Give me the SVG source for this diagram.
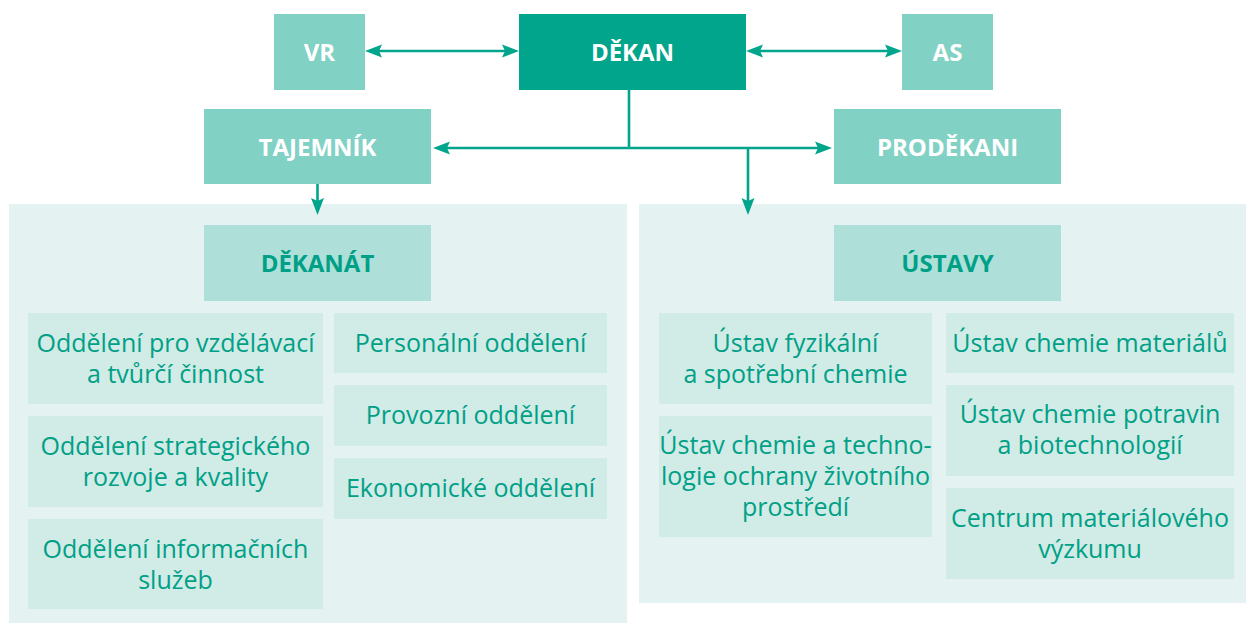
<svg xmlns="http://www.w3.org/2000/svg" width="1246" height="623" viewBox="0 0 1246 623">
  <defs>
    <style>
      .dark { fill: #00A58B; }
      .mid { fill: #82D1C5; }
      .head { fill: #AEE0D9; }
      .sub { fill: #D1EBE6; }
      .panel { fill: #E4F3F2; }
      .lbl { font-family: "Open Sans", "Noto Sans", sans-serif; font-size: 24px; font-weight: 700; fill: #FFFFFF; text-anchor: middle; }
      .hlbl { font-family: "Open Sans", "Noto Sans", sans-serif; font-size: 24px; font-weight: 700; fill: #00A087; text-anchor: middle; }
      .txt { font-family: "Open Sans", "Noto Sans", sans-serif; font-size: 25px; font-weight: 400; fill: #00A087; text-anchor: middle; }
      .conn { stroke: #00A58B; stroke-width: 2.6; fill: none; }
    </style>
    <marker id="ah" markerUnits="userSpaceOnUse" markerWidth="18" markerHeight="14" refX="7" refY="6.5" orient="auto-start-reverse" viewBox="0 0 18 13">
      <path d="M0,0 L17,6.5 L0,13 L3,6.5 Z" fill="#00A58B"/>
    </marker>
  </defs>

  <rect class="panel" x="9" y="204" width="618" height="419"/>
  <rect class="panel" x="639" y="204" width="607" height="399"/>

  <g id="connectors">
    <line class="conn" x1="375" y1="51" x2="509" y2="51" marker-start="url(#ah)" marker-end="url(#ah)"/>
    <line class="conn" x1="756" y1="51" x2="892" y2="51" marker-start="url(#ah)" marker-end="url(#ah)"/>
    <line class="conn" x1="629" y1="90" x2="629" y2="148"/>
    <line class="conn" x1="443" y1="148" x2="822" y2="148" marker-start="url(#ah)" marker-end="url(#ah)"/>
    <line class="conn" x1="748" y1="148" x2="748" y2="205" marker-end="url(#ah)"/>
    <line class="conn" x1="317.5" y1="184" x2="317.5" y2="205" marker-end="url(#ah)"/>
  </g>

  <g id="vr">
    <rect class="mid" x="274" y="14" width="91" height="76"/>
    <text class="lbl" x="319.5" y="61">VR</text>
  </g>
  <g id="dekan">
    <rect class="dark" x="519" y="14" width="227" height="76"/>
    <text class="lbl" x="632.5" y="61">DĚKAN</text>
  </g>
  <g id="as">
    <rect class="mid" x="902" y="14" width="91" height="76"/>
    <text class="lbl" x="947.5" y="61">AS</text>
  </g>
  <g id="tajemnik">
    <rect class="mid" x="204" y="109" width="227" height="75"/>
    <text class="lbl" x="317.5" y="156">TAJEMNÍK</text>
  </g>
  <g id="prodekani">
    <rect class="mid" x="834" y="109" width="227" height="75"/>
    <text class="lbl" x="947.5" y="156">PRODĚKANI</text>
  </g>

  <g id="dekanat">
    <rect class="head" x="204" y="225" width="227" height="76"/>
    <text class="hlbl" x="317.5" y="272">DĚKANÁT</text>
  </g>
  <g id="ustavy">
    <rect class="head" x="834" y="225" width="227" height="76"/>
    <text class="hlbl" x="947.5" y="272">ÚSTAVY</text>
  </g>

  <g id="odd-vzdelavaci">
    <rect class="sub" x="28" y="313" width="295" height="91"/>
    <text class="txt" x="175.5" y="352">Oddělení pro vzdělávací</text>
    <text class="txt" x="175.5" y="383">a tvůrčí činnost</text>
  </g>
  <g id="odd-strategicke">
    <rect class="sub" x="28" y="416" width="295" height="91"/>
    <text class="txt" x="175.5" y="455">Oddělení strategického</text>
    <text class="txt" x="175.5" y="486">rozvoje a kvality</text>
  </g>
  <g id="odd-informacni">
    <rect class="sub" x="28" y="519" width="295" height="90"/>
    <text class="txt" x="175.5" y="558">Oddělení informačních</text>
    <text class="txt" x="175.5" y="589">služeb</text>
  </g>
  <g id="odd-personalni">
    <rect class="sub" x="334" y="313" width="273" height="60"/>
    <text class="txt" x="470.5" y="352">Personální oddělení</text>
  </g>
  <g id="odd-provozni">
    <rect class="sub" x="334" y="385" width="273" height="61"/>
    <text class="txt" x="470.5" y="424">Provozní oddělení</text>
  </g>
  <g id="odd-ekonomicke">
    <rect class="sub" x="334" y="458" width="273" height="61"/>
    <text class="txt" x="470.5" y="497">Ekonomické oddělení</text>
  </g>

  <g id="ustav-fyzikalni">
    <rect class="sub" x="659" y="313" width="273" height="91"/>
    <text class="txt" x="795.5" y="352">Ústav fyzikální</text>
    <text class="txt" x="795.5" y="383">a spotřební chemie</text>
  </g>
  <g id="ustav-zivotni">
    <rect class="sub" x="659" y="416" width="273" height="121"/>
    <text class="txt" x="795.5" y="454">Ústav chemie a techno-</text>
    <text class="txt" x="795.5" y="485">logie ochrany životního</text>
    <text class="txt" x="795.5" y="516">prostředí</text>
  </g>
  <g id="ustav-materialu">
    <rect class="sub" x="946" y="313" width="288" height="60"/>
    <text class="txt" x="1090" y="352">Ústav chemie materiálů</text>
  </g>
  <g id="ustav-potravin">
    <rect class="sub" x="946" y="385" width="288" height="91"/>
    <text class="txt" x="1090" y="423">Ústav chemie potravin</text>
    <text class="txt" x="1090" y="454">a biotechnologií</text>
  </g>
  <g id="centrum">
    <rect class="sub" x="946" y="488" width="288" height="91"/>
    <text class="txt" x="1090" y="527">Centrum materiálového</text>
    <text class="txt" x="1090" y="558">výzkumu</text>
  </g>
</svg>
